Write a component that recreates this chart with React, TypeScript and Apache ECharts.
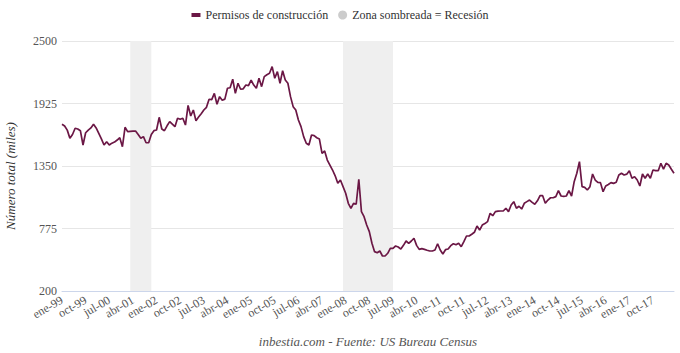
import React, { useEffect, useRef } from "react";
import * as echarts from "echarts";

const monthNames = ["ene", "feb", "mar", "abr", "may", "jun", "jul", "ago", "sep", "oct", "nov", "dic"];
const firstYear = 1999;
const lastYear = 2018;
const lastMonthIndex = 5; // jun-18
const labelEvery = 9;

const permits = [
  1734, 1718, 1680, 1605, 1640, 1697, 1690, 1675, 1543, 1656, 1680, 1700,
  1734, 1700, 1650, 1600, 1543, 1574, 1543, 1560, 1570, 1589, 1610, 1527,
  1706, 1666, 1668, 1670, 1672, 1640, 1605, 1620, 1564, 1564, 1640, 1675,
  1681, 1798, 1690, 1675, 1720, 1758, 1735, 1712, 1789, 1780, 1789, 1727,
  1908, 1810, 1865, 1767, 1800, 1830, 1865, 1890, 1964, 1960, 2018, 1918,
  1988, 1955, 1965, 2065, 2070, 2148, 2018, 2111, 2056, 2060, 2095, 2090,
  2141, 2095, 2065, 2157, 2080, 2172, 2190, 2203, 2264, 2157, 2218, 2111,
  2227, 2141, 2111, 1988, 1896, 1865, 1773, 1712, 1620, 1559, 1543, 1635,
  1629, 1610, 1598, 1467, 1488, 1405, 1359, 1313, 1260, 1191, 1221, 1160,
  1099, 1007, 961, 1007, 998, 1228, 930, 884, 807, 746, 639, 562,
  552, 568, 522, 522, 547, 593, 593, 614, 605, 586, 620, 660,
  639, 660, 685, 620, 583, 590, 583, 575, 568, 568, 577, 635,
  577, 540, 580, 586, 617, 635, 625, 639, 608, 654, 706, 706,
  722, 740, 798, 761, 807, 820, 838, 915, 893, 930, 935, 936,
  936, 961, 930, 991, 1022, 961, 980, 954, 1007, 1022, 1037, 1015,
  998, 1030, 1077, 1077, 1007, 1037, 1058, 1058, 1068, 1123, 1074, 1070,
  1074, 1123, 1074, 1206, 1283, 1390, 1160, 1154, 1129, 1160, 1276, 1221,
  1200, 1197, 1114, 1166, 1180, 1197, 1190, 1200, 1267, 1283, 1267, 1275,
  1307, 1237, 1252, 1221, 1166, 1276, 1237, 1276, 1237, 1313, 1307, 1307,
  1375, 1322, 1375, 1359, 1320, 1283,
];

const recessions: [string, string][] = [
  ["mar-01", "nov-01"],
  ["dic-07", "jul-09"],
];

const yMin = 200;
const yMax = 2500;
const yStep = 575;

const seriesName = "Permisos de construcción";
const recessionName = "Zona sombreada = Recesión";
const yAxisTitle = "Número total (miles)";
const sourceText = "inbestia.com - Fuente: US Bureau Census";

const categories: string[] = [];
for (let y = firstYear; y <= lastYear; y++) {
  for (let m = 0; m < 12; m++) {
    if (y === lastYear && m > lastMonthIndex) break;
    categories.push(monthNames[m] + "-" + String(y).slice(2));
  }
}

const FONT = "'Liberation Serif', 'Times New Roman', serif";

const labelStyle = {
  rotate: 30,
  color: "#555",
  fontSize: 12,
  fontFamily: FONT,
  margin: 8,
  hideOverlap: false,
};

function makeXAxis(parity: number, showLine: boolean) {
  return {
    type: "category",
    data: categories,
    boundaryGap: false,
    position: "bottom",
    axisLine: { show: showLine, lineStyle: { color: "#ccd6eb" } },
    axisTick: { show: false },
    splitLine: { show: false },
    axisLabel: {
      ...labelStyle,
      interval: (i: number) => i % labelEvery === 0 && (i / labelEvery) % 2 === parity,
    },
  };
}

export default function App() {
  const ref = useRef<HTMLDivElement>(null);
  useEffect(() => {
    if (!ref.current) return;
    const chart = echarts.init(ref.current, null, { renderer: "svg" });
    chart.setOption({
      animation: false,
      backgroundColor: "#ffffff",
      textStyle: { fontFamily: FONT },
      legend: {
        top: 4,
        left: "center",
        itemWidth: 9,
        itemHeight: 9,
        itemGap: 10,
        textStyle: { fontFamily: FONT, fontSize: 12, color: "#333" },
        data: [
          { name: seriesName, icon: "path://M0,0 L9,0 L9,4 L0,4 Z" },
          { name: recessionName, icon: "circle" },
        ],
      },
      graphic: [
        {
          type: "text",
          x: 368,
          y: 341,
          style: {
            text: sourceText,
            font: "italic 13px " + FONT,
            fill: "#555",
            align: "center",
            verticalAlign: "middle",
          },
        },
      ],
      grid: {
        left: 62,
        right: 6,
        top: 41,
        bottom: 62,
        containLabel: false,
        outerBoundsMode: "none",
      },
      xAxis: [makeXAxis(0, true), makeXAxis(1, false)],
      yAxis: {
        type: "value",
        min: yMin,
        max: yMax,
        interval: yStep,
        name: yAxisTitle,
        nameLocation: "middle",
        nameGap: 45,
        nameTextStyle: {
          fontFamily: FONT,
          fontSize: 13,
          fontStyle: "italic",
          color: "#333",
          padding: [0, 20, 0, 0],
        },
        axisLine: { show: false },
        axisTick: { show: false },
        axisLabel: {
          color: "#555",
          fontSize: 12,
          fontFamily: FONT,
          margin: 5,
          formatter: (v: number) => String(v),
        },
        splitLine: { lineStyle: { color: "#e6e6e6" } },
      },
      series: [
        {
          name: seriesName,
          type: "line",
          xAxisIndex: 0,
          data: permits,
          showSymbol: false,
          symbol: "none",
          color: "#6b1745",
          lineStyle: { width: 1.7, color: "#6b1745" },
          markArea: {
            silent: true,
            itemStyle: { color: "#efefef" },
            data: recessions.map(([a, b]) => [{ xAxis: a }, { xAxis: b }]),
          },
          z: 3,
        },
        {
          name: recessionName,
          type: "line",
          xAxisIndex: 0,
          data: [],
          color: "#cccccc",
        },
      ],
    });
    return () => chart.dispose();
  }, []);
  return (
    <div
      ref={ref}
      style={{ position: "absolute", left: 0, top: 0, width: 680, height: 353 }}
    />
  );
}
